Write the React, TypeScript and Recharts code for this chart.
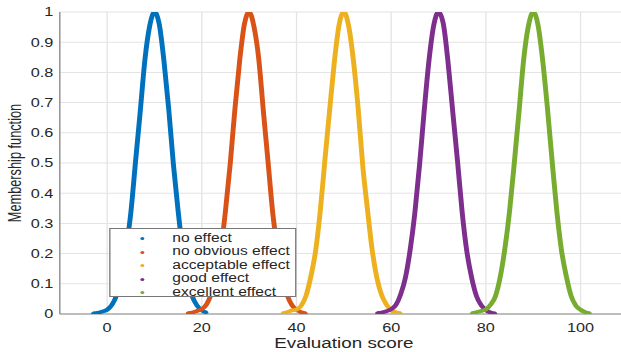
import { CartesianGrid, Legend, Scatter, ScatterChart, XAxis, YAxis } from "recharts";

// the reference figure is stretched sideways, so the chart is drawn narrow and widened with CSS
const STRETCH = 1.3;
const CHART_WIDTH = 486;
const CHART_HEIGHT = 352;
const FONT = '"Liberation Sans", Arial, sans-serif';
const TEXT_COLOR = "#262626";
const AXIS_COLOR = "#8a8a8a";
const GRID_COLOR = "#e4e4e4";

const seriesNames = [
  "no effect",
  "no obvious effect",
  "acceptable effect",
  "good effect",
  "excellent effect",
];
const seriesColors = ["#0072BD", "#D95319", "#EDB120", "#7E2F8E", "#77AC30"];

const scoreTicks = [0, 20, 40, 60, 80, 100];
const membershipTicks = [0, 0.1, 0.2, 0.3, 0.4, 0.5, 0.6, 0.7, 0.8, 0.9, 1];

const noEffectScore = [-3, -2, -1, 0, 1, 2, 3, 4, 5, 6, 7, 8, 9, 10, 11, 12, 13, 14, 15, 16, 17, 18, 19, 20, 21];
const noEffectValue = [0.002, 0.004, 0.008, 0.014, 0.03, 0.062, 0.118, 0.215, 0.335, 0.505, 0.672, 0.845, 0.955, 1, 0.96, 0.838, 0.68, 0.495, 0.34, 0.208, 0.122, 0.058, 0.028, 0.012, 0.005];

const noObviousScore = [17, 18, 19, 20, 21, 22, 23, 24, 25, 26, 27, 28, 29, 30, 31, 32, 33, 34, 35, 36, 37, 38, 39, 40, 41, 42];
const noObviousValue = [0.003, 0.005, 0.01, 0.016, 0.032, 0.066, 0.115, 0.21, 0.342, 0.498, 0.68, 0.84, 0.96, 1, 0.953, 0.848, 0.672, 0.502, 0.332, 0.212, 0.116, 0.064, 0.03, 0.014, 0.006, 0.002];

const acceptableScore = [37, 38, 39, 40, 41, 42, 43, 44, 45, 46, 47, 48, 49, 50, 51, 52, 53, 54, 55, 56, 57, 58, 59, 60, 61, 62];
const acceptableValue = [0.002, 0.006, 0.012, 0.015, 0.028, 0.06, 0.122, 0.205, 0.338, 0.51, 0.675, 0.836, 0.958, 1, 0.955, 0.842, 0.685, 0.49, 0.345, 0.21, 0.118, 0.062, 0.031, 0.012, 0.006, 0.003];

const goodScore = [57, 58, 59, 60, 61, 62, 63, 64, 65, 66, 67, 68, 69, 70, 71, 72, 73, 74, 75, 76, 77, 78, 79, 80, 81, 82];
const goodValue = [0.003, 0.005, 0.009, 0.016, 0.03, 0.065, 0.12, 0.212, 0.335, 0.495, 0.678, 0.842, 0.957, 1, 0.962, 0.835, 0.67, 0.508, 0.336, 0.205, 0.12, 0.06, 0.029, 0.013, 0.005, 0.002];

const excellentScore = [77, 78, 79, 80, 81, 82, 83, 84, 85, 86, 87, 88, 89, 90, 91, 92, 93, 94, 95, 96, 97, 98, 99, 100, 101, 102];
const excellentValue = [0.002, 0.006, 0.01, 0.015, 0.031, 0.058, 0.12, 0.215, 0.34, 0.5, 0.67, 0.845, 0.955, 1, 0.958, 0.84, 0.682, 0.505, 0.338, 0.208, 0.124, 0.06, 0.028, 0.014, 0.006, 0.002];

type Point = { score: number; value: number };

const toPoints = (scores: number[], values: number[]): Point[] =>
  scores.map((score, i) => ({ score, value: values[i] }));

const seriesData = [
  toPoints(noEffectScore, noEffectValue),
  toPoints(noObviousScore, noObviousValue),
  toPoints(acceptableScore, acceptableValue),
  toPoints(goodScore, goodValue),
  toPoints(excellentScore, excellentValue),
];

const renderXLabel = (props: any) => {
  const { x, width } = props.viewBox;
  return (
    <text
      x={x + width / 2}
      y={CHART_HEIGHT - 4}
      textAnchor="middle"
      fontFamily={FONT}
      fontSize={14.5}
      fill={TEXT_COLOR}
    >
      Evaluation score
    </text>
  );
};

const renderYLabel = (props: any) => {
  const { x, y, height } = props.viewBox;
  return (
    <text
      transform={`translate(${x + 11},${y + height / 2}) rotate(-90) scale(0.88,1)`}
      textAnchor="middle"
      dominantBaseline="central"
      fontFamily={FONT}
      fontSize={14.5}
      fill={TEXT_COLOR}
    >
      Membership function
    </text>
  );
};

const renderLegend = () => (
  <div
    style={{
      width: 144,
      height: 69,
      boxSizing: "border-box",
      border: "1px solid #777",
      background: "#fff",
      paddingTop: 2.75,
      fontFamily: FONT,
      fontSize: 12,
      color: TEXT_COLOR,
    }}
  >
    {seriesNames.map((name, i) => (
      <div
        key={name}
        style={{ display: "flex", alignItems: "center", height: 13.5, lineHeight: "13.5px" }}
      >
        <span
          style={{
            marginLeft: 23,
            width: 3,
            height: 3,
            borderRadius: "50%",
            background: seriesColors[i],
          }}
        />
        <span style={{ marginLeft: 21.5, whiteSpace: "nowrap" }}>{name}</span>
      </div>
    ))}
  </div>
);

const dotShape = (color: string) => (props: any) =>
  <circle cx={props.cx} cy={props.cy} r={1.4} fill={color} />;

export default function App() {
  return (
    <div
      style={{
        position: "absolute",
        left: 0,
        top: 0,
        width: 621,
        height: 352,
        overflow: "hidden",
        background: "#fff",
      }}
    >
      <div
        style={{
          width: CHART_WIDTH,
          height: CHART_HEIGHT,
          transform: `scaleX(${STRETCH})`,
          transformOrigin: "0 0",
        }}
      >
        <ScatterChart
          width={CHART_WIDTH}
          height={CHART_HEIGHT}
          margin={{ top: 12, right: 3, bottom: 0, left: 0 }}
        >
          <CartesianGrid stroke={GRID_COLOR} />
          <XAxis
            type="number"
            dataKey="score"
            domain={[-10, 110]}
            ticks={scoreTicks}
            allowDataOverflow
            height={38}
            tickLine={false}
            tickSize={5}
            tickMargin={4}
            axisLine={{ stroke: AXIS_COLOR }}
            tick={{ fill: TEXT_COLOR, fontSize: 12.5, fontFamily: FONT }}
            label={renderXLabel}
          />
          <XAxis
            xAxisId="top"
            orientation="top"
            mirror
            type="number"
            domain={[-10, 110]}
            ticks={scoreTicks}
            allowDataOverflow
            height={0}
            tick={false}
            tickSize={4}
            tickLine={{ stroke: "#555" }}
            axisLine={{ stroke: AXIS_COLOR }}
          />
          <YAxis
            type="number"
            dataKey="value"
            domain={[0, 1]}
            ticks={membershipTicks}
            allowDataOverflow
            width={46}
            tickLine={false}
            tickSize={3}
            tickMargin={2}
            axisLine={{ stroke: AXIS_COLOR }}
            tick={{ fill: TEXT_COLOR, fontSize: 12.5, fontFamily: FONT }}
            label={renderYLabel}
          />
          {seriesData.map((data, i) => (
            <Scatter
              key={seriesNames[i]}
              name={seriesNames[i]}
              data={data}
              fill={seriesColors[i]}
              line={{ stroke: seriesColors[i], strokeWidth: 3.8 }}
              lineJointType="monotoneX"
              shape={dotShape(seriesColors[i])}
              isAnimationActive={false}
            />
          ))}
          <Legend
            layout="vertical"
            align="center"
            verticalAlign="middle"
            content={renderLegend}
            wrapperStyle={{ left: 84, top: 228, width: 144, height: 69 }}
          />
        </ScatterChart>
      </div>
    </div>
  );
}
